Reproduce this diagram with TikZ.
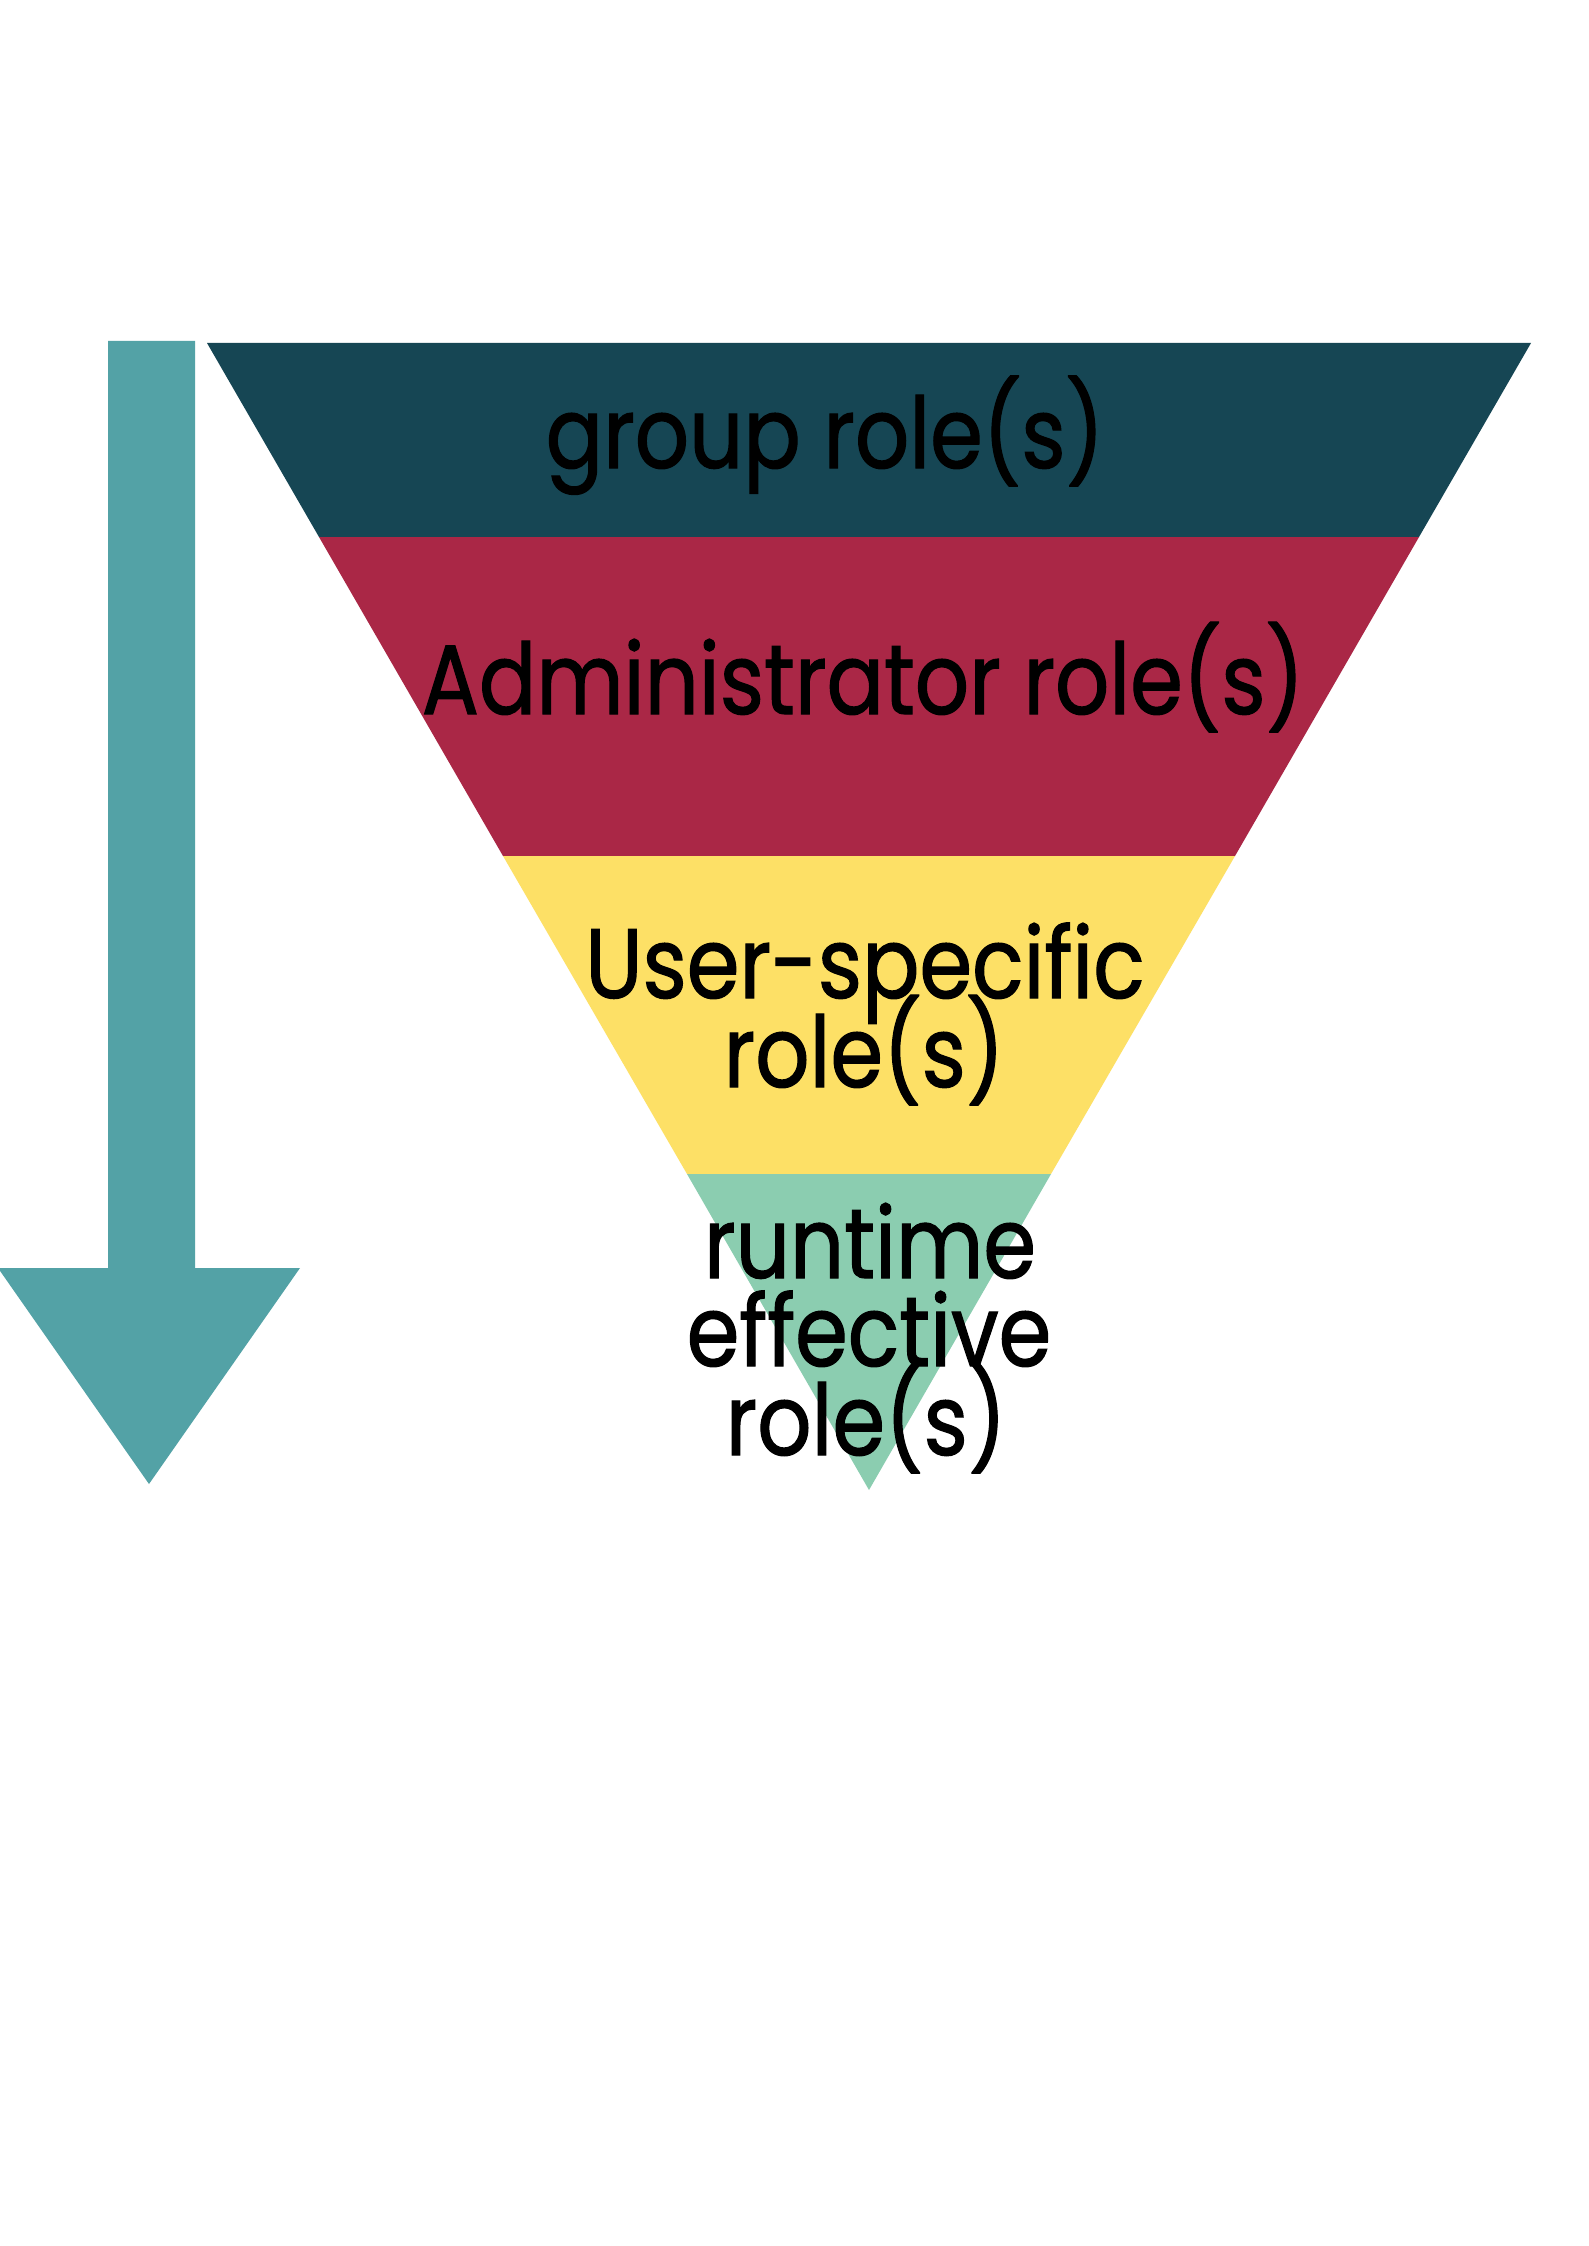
\documentclass[tikz,border=0pt]{standalone}
\usepackage{fontspec}
\setmainfont{Poppins}[FakeStretch=0.86,FakeBold=1.2]
\definecolor{bandA}{HTML}{164654}
\definecolor{bandB}{HTML}{AA2746}
\definecolor{bandC}{HTML}{FDE066}
\definecolor{bandD}{HTML}{8BCDB0}
\definecolor{arrowc}{HTML}{53A2A6}
\begin{document}
\begin{tikzpicture}[x=0.375pt,y=-0.375pt,
  lab/.style={inner sep=0pt, anchor=base, text=black,
    font=\fontsize{37}{37}\selectfont}]
\useasboundingbox (0,0) rectangle (1588,2246);
\fill[white] (0,0) rectangle (1588,2246);
% arrow
\fill[arrowc] (108,341) -- (195,341) -- (195,1268) -- (300,1268) -- (149,1484)
  -- (-2,1268) -- (108,1268) -- cycle;
% funnel bands
\fill[bandA] (207,343) -- (1531,343) -- (1419,537) -- (319,537) -- cycle;
\fill[bandB] (319,537) -- (1419,537) -- (1235,856) -- (503,856) -- cycle;
\fill[bandC] (503,856) -- (1235,856) -- (1051,1174) -- (687,1174) -- cycle;
\fill[bandD] (687,1174) -- (1051,1174) -- (869,1490) -- cycle;
% labels
\node[lab] (grp) at (825,468) {group role(s)};
\node[lab] (adm) at (863,714) {Administrator role(s)};
\node[lab] (usr1) at (865,998) {User-specific};
\node[lab] (usr2) at (864,1087) {role(s)};
\node[lab] (rt1) at (870,1278) {runtime};
\node[lab] (rt2) at (869,1366) {effective};
\node[lab] (rt3) at (866,1455) {role(s)};
\end{tikzpicture}
\end{document}
